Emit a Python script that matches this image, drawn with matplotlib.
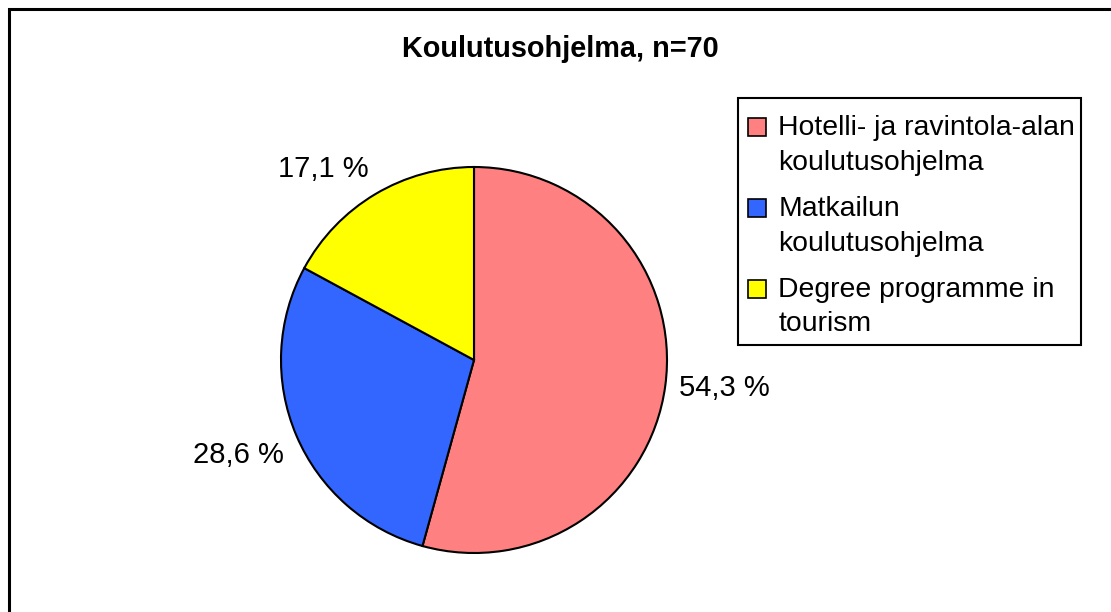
import matplotlib.pyplot as plt
import matplotlib.patches as mpatches
from matplotlib.legend_handler import HandlerPatch

plt.rcParams['font.family'] = ['Liberation Sans', 'DejaVu Sans']

# data
categories = ['Hotelli- ja ravintola-alan\nkoulutusohjelma',
              'Matkailun\nkoulutusohjelma',
              'Degree programme in\ntourism']
shares = [54.3, 28.6, 17.1]
pct_labels = ['54,3 %', '28,6 %', '17,1 %']
colors = ['#FF8080', '#3366FF', '#FFFF00']
title = 'Koulutusohjelma, n=70'

W, H = 1111, 612
fig = plt.figure(figsize=(W / 100, H / 100), dpi=100)

# outer chart frame (only top/left edges are visible in the original)
fig.patches.append(mpatches.Rectangle((8.5 / W, -0.05), 1.1, 1 - 8.5 / H + 0.05,
                                      transform=fig.transFigure, fill=False,
                                      edgecolor='black', linewidth=2.2))

# pie: centre (474, 360) px, radius 193 px
cx, cy, r = 474, 360, 193
ax = fig.add_axes([(cx - r) / W, (H - cy - r) / H, 2 * r / W, 2 * r / H])
wedges, texts = ax.pie(shares, labels=pct_labels, colors=colors,
                       startangle=90, counterclock=False, labeldistance=1.07,
                       wedgeprops=dict(edgecolor='black', linewidth=1.5),
                       textprops=dict(fontsize=21))
ax.set_xlim(-1, 1)
ax.set_ylim(-1, 1)

# excel-like label anchoring
for t in texts:
    x, y = t.get_position()
    s = y / 1.07
    if s > 0.3:
        t.set_va('bottom')
    elif s < -0.3:
        t.set_va('top')

fig.text(560 / W, 1 - 49 / H, title, ha='center', va='center',
         fontsize=20.8, fontweight='bold')


# square marker at the bottom of the handle box, lined up with the first text line
def square(legend, orig_handle, xdescent, ydescent, width, height, fontsize):
    return mpatches.Rectangle((-xdescent, -ydescent), width, width)


top_pad = 7  # extra px above the first entry
leg = fig.legend(wedges, categories, loc='upper left',
                 bbox_to_anchor=(738 / W, 1 - (98 + top_pad) / H), fontsize=20.4,
                 frameon=False,
                 handlelength=0.64, handleheight=0.77, handletextpad=0.42,
                 borderpad=0.36, labelspacing=0.71, borderaxespad=0,
                 handler_map={mpatches.Wedge: HandlerPatch(patch_func=square)})
for h in leg.legend_handles:
    h.set_linewidth(1.2)
for t in leg.get_texts():
    t.set_linespacing(1.43)
for col in leg._legend_handle_box.get_children():
    for entry in col.get_children():
        entry.align = 'top'

# legend frame built around the laid-out legend
fig.canvas.draw()
bb = leg.get_window_extent()
x0, x1 = bb.x0, bb.x1 - 4
y0, y1 = bb.y0 + 2, bb.y1 + top_pad
fig.patches.append(mpatches.Rectangle((x0 / W, y0 / H), (x1 - x0) / W, (y1 - y0) / H,
                                      transform=fig.transFigure, fill=False,
                                      edgecolor='black', linewidth=1.5))

fig.savefig('out.png', dpi=100)
